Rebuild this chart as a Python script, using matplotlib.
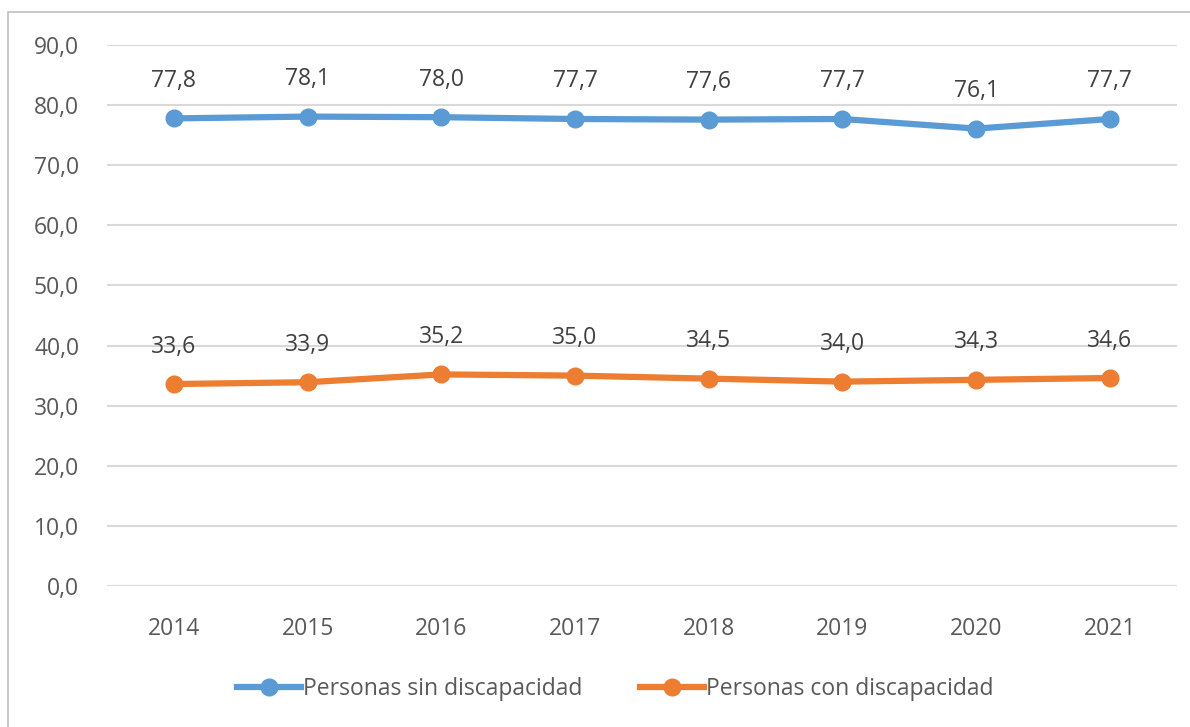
import matplotlib.pyplot as plt
from matplotlib.patches import Rectangle

# Datos
years = ["2014", "2015", "2016", "2017", "2018", "2019", "2020", "2021"]
sin_discapacidad = [77.8, 78.1, 78.0, 77.7, 77.6, 77.7, 76.1, 77.7]
con_discapacidad = [33.6, 33.9, 35.2, 35.0, 34.5, 34.0, 34.3, 34.6]
y_ticks = [0, 10, 20, 30, 40, 50, 60, 70, 80, 90]

plt.rcParams['font.family'] = ['Open Sans', 'DejaVu Sans']
text_color = "#595959"
blue = "#5B9BD5"
orange = "#ED7D31"

fig = plt.figure(figsize=(11.9, 7.27), dpi=100)
ax = fig.add_axes([0.0899, 0.194, 0.899, 0.744])

# marco del gráfico
fig.patches.append(Rectangle((8 / 1190, -0.1), 1.2, 1.1 - 12 / 727,
                             transform=fig.transFigure, fill=False,
                             edgecolor="#BFBFBF", linewidth=1.2))

x = list(range(len(years)))
ax.plot(x, sin_discapacidad, color=blue, linewidth=4.5, marker="o",
        markersize=12, label="Personas sin discapacidad", zorder=3)
ax.plot(x, con_discapacidad, color=orange, linewidth=4.5, marker="o",
        markersize=12, label="Personas con discapacidad", zorder=3)

for serie in (sin_discapacidad, con_discapacidad):
    for xi, v in zip(x, serie):
        ax.annotate(f"{v:.1f}".replace(".", ","), (xi, v), xytext=(0, 27),
                    textcoords="offset points", ha="center", va="center",
                    fontsize=16.5, color="#404040")

ax.set_xlim(-0.5, len(years) - 0.5)
ax.set_ylim(0, 90)
ax.set_yticks(y_ticks)
ax.set_yticklabels([f"{t:.1f}".replace(".", ",") for t in y_ticks])
ax.set_xticks(x)
ax.set_xticklabels(years)
ax.tick_params(axis="both", length=0, labelsize=16.5, labelcolor=text_color)
ax.tick_params(axis="y", pad=20)
ax.tick_params(axis="x", pad=22)
ax.grid(axis="y", color="#D9D9D9", linewidth=1.5)
ax.set_axisbelow(True)
for s in ax.spines.values():
    s.set_visible(False)

ax.legend(loc="center", bbox_to_anchor=(0.475, -0.19), ncol=2, frameon=False,
          fontsize=16.5, labelcolor=text_color, handlelength=2.8,
          handletextpad=0.1, columnspacing=2.5)

fig.savefig("out.png", dpi=100)
